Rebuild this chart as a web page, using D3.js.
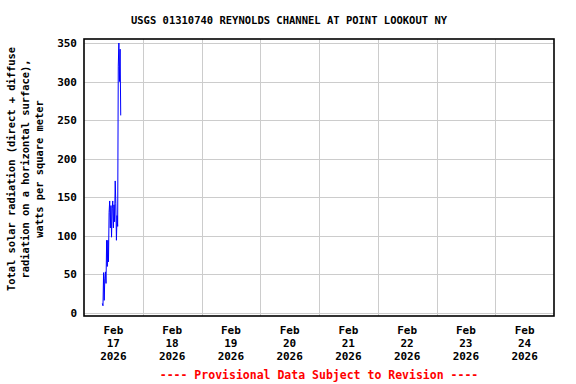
<!DOCTYPE html>
<html lang="en">
<head>
<meta charset="UTF-8">
<title>USGS 01310740 solar radiation</title>
<script src="https://d3js.org/d3.v7.min.js"></script>
<style>
  body { margin: 0; background: #fff; }
  text { font-family: 'DejaVu Sans Mono', monospace; font-weight: bold; }
</style>
</head>
<body>
<div id="chart"></div>
<script>
// 15-minute readings, Feb 17 2026 (local)
const times = ["07:30","07:45","08:00","08:15","08:30","08:45","09:00","09:15","09:30","09:45",
  "10:00","10:15","10:30","10:45","11:00","11:15","11:30","11:45","12:00","12:15",
  "12:30","12:45","13:00","13:15","13:30","13:45","14:00","14:15","14:30","14:45","15:00"];
const watts = [12, 9, 52, 16, 44, 53, 38, 94, 60, 94,
  66, 130, 145, 110, 139, 98, 135, 145, 110, 140,
  118, 171, 142, 94, 126, 112, 320, 350, 300, 342, 256];
const dayTicks = ["2026-02-17","2026-02-18","2026-02-19","2026-02-20",
  "2026-02-21","2026-02-22","2026-02-23","2026-02-24"];
const yTicks = [0, 50, 100, 150, 200, 250, 300, 350];
const yLabelLines = ["Total solar radiation (direct + diffuse",
  "radiation on a horizontal surface),",
  "watts per square meter"];

const W = 576, H = 384;
const plotL = 84, plotR = 554, plotT = 39, plotB = 316;

const parseDay = d3.timeParse("%Y-%m-%d");
const parseT = d3.timeParse("%Y-%m-%d %H:%M");
const data = times.map((t, i) => ({ t: parseT("2026-02-17 " + t), v: watts[i] }));

const svg = d3.select("#chart").append("svg")
  .attr("width", W).attr("height", H);

const x = d3.scaleTime()
  .domain([parseDay("2026-02-17"), parseDay("2026-02-25")])
  .range([plotL, plotR]);
const y = d3.scaleLinear().domain([0, 350]).range([312.7, 43]);

// grid
svg.append("g").selectAll("line").data(yTicks).join("line")
  .attr("x1", plotL).attr("x2", plotR)
  .attr("y1", d => Math.round(y(d)) + 0.5).attr("y2", d => Math.round(y(d)) + 0.5)
  .attr("stroke", "#cccccc");
svg.append("g").selectAll("line").data(dayTicks.slice(1)).join("line")
  .attr("x1", d => Math.round(x(parseDay(d))) + 0.5)
  .attr("x2", d => Math.round(x(parseDay(d))) + 0.5)
  .attr("y1", plotT).attr("y2", plotB)
  .attr("stroke", "#cccccc");

// data
svg.append("path").datum(data)
  .attr("fill", "none").attr("stroke", "#0000ff").attr("stroke-width", 1)
  .attr("d", d3.line().x(d => x(d.t)).y(d => y(d.v)));

// frame
svg.append("rect")
  .attr("x", plotL).attr("y", plotT)
  .attr("width", plotR - plotL).attr("height", plotB - plotT)
  .attr("fill", "none").attr("stroke", "#000").attr("stroke-width", 1.6);

// y ticks
svg.append("g").selectAll("text").data(yTicks).join("text")
  .attr("x", 77).attr("y", d => y(d) + 4)
  .attr("text-anchor", "end").attr("font-size", 11)
  .text(d => d);

// x ticks at noon of each day
const fmtDay = d3.timeFormat("%-d"), fmtYear = d3.timeFormat("%Y"), fmtMon = d3.timeFormat("%b");
const xt = svg.append("g").selectAll("text").data(dayTicks).join("text")
  .attr("text-anchor", "middle").attr("font-size", 11)
  .attr("transform", d => `translate(${x(d3.timeHour.offset(parseDay(d), 12))},334)`);
xt.append("tspan").attr("x", 0).attr("dy", 0).text(d => fmtMon(parseDay(d)));
xt.append("tspan").attr("x", 0).attr("dy", 13).text(d => fmtDay(parseDay(d)));
xt.append("tspan").attr("x", 0).attr("dy", 13).text(d => fmtYear(parseDay(d)));

// title
svg.append("text")
  .attr("x", 289).attr("y", 24).attr("text-anchor", "middle")
  .attr("font-size", 10.5)
  .text("USGS 01310740 REYNOLDS CHANNEL AT POINT LOOKOUT NY");

// y label
const yl = svg.append("text")
  .attr("transform", "translate(15,169) rotate(-90)")
  .attr("text-anchor", "middle").attr("font-size", 10.4);
yLabelLines.forEach((s, i) => {
  yl.append("tspan").attr("x", 0).attr("dy", i === 0 ? 0 : 14).text(s);
});

// provisional note
svg.append("text")
  .attr("x", 319).attr("y", 379).attr("text-anchor", "middle")
  .attr("font-size", 11.5).attr("fill", "#ff0000")
  .text("---- Provisional Data Subject to Revision ----");
</script>
</body>
</html>
